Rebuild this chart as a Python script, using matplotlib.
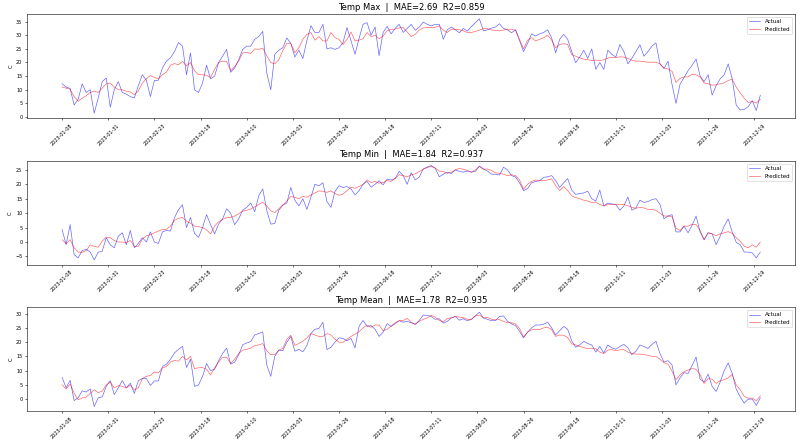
import matplotlib
matplotlib.use("Agg")
import matplotlib.pyplot as plt
from matplotlib.ticker import MultipleLocator
import pandas as pd

# ---------------- data (every 2nd day, 2023-01-08 .. 2023-12-22) ----------------
start_date = "2023-01-08"
n_points = 175
step = "2D"

max_actual = [
    12.2, 11.0, 10.5, 4.4, 6.5, 12.2, 9.0, 10.0, 1.4, 7.0,
    13.0, 14.3, 3.6, 10.0, 13.0, 9.0, 8.4, 7.5, 7.0, 11.5,
    15.5, 13.5, 7.5, 13.4, 13.5, 18.0, 20.5, 21.7, 24.0, 27.3,
    26.0, 15.5, 23.5, 10.0, 9.0, 12.5, 19.0, 14.0, 15.0, 20.0,
    22.3, 24.8, 16.4, 18.0, 21.0, 24.8, 26.0, 26.0, 28.5, 29.5,
    31.4, 16.2, 10.0, 23.0, 24.5, 25.4, 29.0, 27.0, 22.0, 24.5,
    21.5, 28.0, 33.5, 31.0, 31.0, 34.0, 25.0, 25.4, 24.8, 25.4,
    27.3, 32.8, 28.0, 23.0, 28.8, 34.0, 34.6, 30.0, 33.0, 22.5,
    31.0, 33.2, 30.5, 32.5, 34.0, 31.0, 32.5, 34.0, 31.8, 33.0,
    34.8, 34.0, 33.4, 34.0, 34.0, 28.5, 32.0, 33.0, 32.0, 30.9,
    32.5, 31.5, 33.2, 34.6, 36.0, 31.6, 32.0, 32.6, 33.0, 34.2,
    32.5, 32.0, 30.9, 32.0, 28.0, 24.0, 27.0, 30.5, 29.7, 30.5,
    31.0, 32.0, 29.0, 23.5, 28.5, 30.3, 28.5, 24.0, 19.9, 22.0,
    24.5, 21.5, 25.0, 17.5, 20.0, 17.5, 24.5, 23.0, 22.0, 26.6,
    24.0, 19.5, 21.5, 24.0, 26.5, 22.3, 24.0, 26.0, 27.2, 19.5,
    17.8, 20.5, 12.0, 5.0, 12.0, 14.5, 17.0, 19.0, 21.3, 15.0,
    13.0, 15.5, 8.0, 11.5, 14.0, 15.5, 19.5, 14.0, 4.4, 2.6,
    2.8, 3.8, 6.0, 2.4, 8.0,
]
max_pred = [
    11.0, 10.6, 10.2, 7.5, 5.8, 6.9, 7.8, 9.0, 9.5, 9.0,
    10.6, 12.2, 12.5, 11.0, 10.0, 10.0, 9.5, 9.2, 8.2, 9.5,
    12.5, 14.0, 15.2, 14.5, 14.0, 15.5, 16.5, 19.0, 19.6, 19.2,
    20.4, 18.8, 20.0, 17.0, 15.5, 15.5, 15.3, 14.5, 17.5, 20.0,
    20.5, 20.4, 17.0, 18.5, 20.5, 23.5, 23.7, 23.3, 25.0, 24.8,
    25.3, 22.5, 20.0, 19.5, 21.0, 24.4, 27.0, 27.0, 23.6, 25.4,
    28.5, 30.3, 31.0, 28.2, 29.5, 27.9, 27.9, 31.0, 29.1, 28.5,
    26.6, 28.5, 31.2, 27.9, 28.2, 28.7, 31.0, 29.5, 30.0, 28.7,
    29.7, 31.6, 32.2, 32.2, 32.7, 32.8, 31.2, 29.5, 30.3, 31.9,
    32.7, 32.8, 32.8, 32.9, 33.4, 31.9, 31.0, 32.2, 32.2, 32.0,
    31.6, 31.0, 31.0, 31.4, 31.9, 32.4, 32.4, 31.9, 31.8, 31.6,
    31.9, 32.2, 32.2, 31.8, 28.5, 25.0, 28.2, 29.1, 27.9, 28.5,
    29.1, 30.0, 28.2, 25.4, 26.6, 26.9, 26.6, 22.9, 22.3, 21.7,
    21.2, 21.1, 20.7, 20.9, 20.7, 21.0, 21.6, 21.9, 21.8, 22.1,
    22.0, 21.5, 20.8, 20.5, 20.5, 20.3, 20.1, 20.1, 20.1, 19.5,
    18.0, 17.6, 16.8, 12.7, 14.2, 14.7, 14.7, 15.7, 15.5, 14.7,
    12.5, 12.2, 11.7, 11.8, 12.2, 12.5, 13.4, 13.9, 11.0, 8.8,
    6.9, 5.3, 5.7, 5.1, 6.5,
]
min_actual = [
    4.3, -0.9, 6.0, -4.4, -5.5, -3.0, -2.5, -3.5, -6.2, -3.5,
    -3.2, 1.5, -1.0, -2.0, 2.0, 3.2, -1.0, 4.0, -2.0, -0.5,
    1.5, 0.0, 3.5, 0.0, -0.5, 3.5, 4.0, 3.8, 8.4, 11.2,
    12.9, 5.0, 8.5, 3.0, 1.6, 5.0, 9.5, 6.0, 2.8, 6.2,
    8.0, 11.5, 10.0, 6.0, 8.0, 11.0, 12.0, 13.5, 10.5, 16.0,
    18.4, 11.0, 6.2, 6.4, 11.0, 12.8, 13.5, 18.9, 14.5, 12.5,
    15.0, 11.3, 15.5, 20.0, 19.5, 20.5, 14.0, 12.0, 17.5, 19.5,
    18.9, 19.2, 18.4, 16.3, 17.8, 20.0, 21.0, 19.0, 20.0, 21.2,
    19.8, 21.8, 21.5, 22.0, 24.5, 23.0, 20.0, 24.0, 21.5, 22.5,
    25.3, 26.0, 26.5, 25.5, 22.6, 23.5, 24.2, 23.7, 25.0, 24.5,
    24.2, 24.6, 24.2, 24.5, 26.3, 25.3, 24.6, 23.5, 23.5, 23.2,
    25.9, 25.0, 23.0, 22.5, 20.5, 17.8, 18.5, 20.5, 21.0, 21.2,
    22.4, 22.6, 23.0, 21.3, 18.9, 20.5, 22.0, 18.0, 16.5, 16.8,
    17.0, 17.6, 15.0, 14.2, 18.0, 12.5, 13.5, 13.2, 13.0, 11.0,
    12.5, 15.6, 11.0, 11.8, 14.5, 13.7, 14.0, 14.7, 15.0, 13.0,
    8.0, 9.0, 9.5, 3.5, 3.5, 5.5, 3.2, 5.8, 9.0, 3.5,
    0.8, 3.2, 2.8, -0.9, 2.0, 5.5, 8.0, 3.5, -0.1, -1.0,
    -3.5, -3.5, -3.8, -5.5, -3.5,
]
min_pred = [
    0.8, -0.6, 0.8, -2.0, -3.5, -3.6, -3.0, -1.0, -1.5, -1.8,
    0.3, 1.7, 1.5, 0.5, 0.0, 0.0, -0.2, 0.5, -1.5, -1.5,
    1.0, 2.2, 2.5, 3.2, 3.8, 4.3, 4.4, 5.5, 7.5, 8.2,
    8.5, 7.2, 6.5, 5.5, 5.3, 5.0, 4.2, 2.8, 5.5, 7.0,
    7.8, 8.5, 8.5, 9.0, 9.8, 10.7, 11.0, 11.4, 12.2, 13.0,
    13.8, 12.5, 10.8, 10.2, 11.5, 12.8, 14.2, 15.8, 15.5, 15.0,
    15.8, 15.5, 16.3, 17.0, 17.7, 17.6, 17.2, 17.7, 16.8, 16.2,
    16.6, 17.8, 19.0, 18.6, 19.2, 20.0, 21.5, 20.6, 21.0, 20.4,
    20.6, 21.3, 21.0, 22.0, 23.3, 23.0, 22.6, 23.3, 23.6, 24.4,
    25.2, 25.8, 26.2, 25.6, 24.6, 24.4, 23.8, 24.2, 25.0, 25.5,
    25.2, 24.8, 24.2, 25.0, 26.2, 25.2, 25.3, 24.8, 24.0, 23.8,
    23.5, 23.0, 23.3, 23.0, 21.5, 18.3, 20.0, 21.0, 21.5, 21.3,
    21.2, 21.5, 21.9, 19.5, 17.8, 19.2, 17.8, 16.0, 15.4, 15.0,
    14.5, 14.2, 13.7, 13.8, 13.0, 12.5, 13.0, 13.0, 13.1, 12.9,
    13.0, 12.6, 12.0, 11.7, 12.0, 11.8, 11.3, 11.3, 11.0, 10.0,
    9.0, 9.0, 8.7, 4.8, 4.0, 5.5, 5.5, 6.1, 6.0, 4.0,
    0.8, 3.2, 2.8, 2.2, 2.8, 3.2, 3.6, 3.0, 1.5, 0.3,
    -1.5, -2.0, -1.0, -1.8, 0.0,
]
mean_actual = [
    7.6, 4.0, 6.6, -0.5, 0.5, 2.9, 2.5, 3.6, -2.6, 0.5,
    0.8, 4.5, 6.5, 1.6, 4.0, 6.5, 4.0, 5.6, 2.0, 6.5,
    7.2, 7.2, 4.8, 6.4, 6.4, 11.5, 12.2, 14.0, 16.2, 17.5,
    18.5, 11.1, 14.0, 4.5, 5.0, 8.0, 12.5, 10.0, 10.5, 13.5,
    16.0, 17.9, 12.3, 13.0, 15.5, 19.1, 19.7, 20.2, 22.5, 23.0,
    23.6, 12.0, 8.0, 15.0, 17.2, 17.0, 20.0, 22.0, 16.8, 17.5,
    16.6, 18.8, 23.0, 24.5, 24.8, 27.0, 17.4, 18.2, 20.0, 21.5,
    21.3, 20.5, 21.3, 18.0, 25.5, 27.6, 25.5, 25.8, 24.5, 22.0,
    23.5, 26.5, 25.5, 26.5, 27.5, 27.0, 27.3, 26.8, 26.2, 27.6,
    29.5, 29.4, 29.0, 28.0, 28.2, 26.7, 27.3, 28.5, 29.0, 27.7,
    28.2, 27.5, 28.0, 29.2, 30.5, 28.5, 28.0, 27.5, 27.6, 29.0,
    29.2, 27.3, 26.4, 25.8, 23.8, 21.5, 23.5, 25.0, 26.0, 26.0,
    26.3, 27.0, 25.0, 22.5, 24.0, 25.5, 24.5, 20.5, 18.2, 19.0,
    20.3, 19.5, 19.0, 16.5, 18.5, 16.2, 19.0, 18.0, 17.5, 18.5,
    19.2, 18.0, 15.6, 16.8, 19.0, 18.5, 17.8, 19.2, 20.3, 16.0,
    13.0, 13.5, 12.0, 5.0, 7.5, 9.3, 9.0, 11.8, 14.8, 7.0,
    6.0, 8.8, 4.5, 2.7, 6.0, 10.0, 12.7, 9.0, 3.5, 0.8,
    -1.4, 0.0, 0.0, -2.2, 0.5,
]
mean_pred = [
    5.0, 3.6, 5.3, 2.0, -0.2, 0.4, 0.7, 2.0, 3.3, 2.3,
    2.8, 5.0, 6.0, 4.0, 4.7, 4.5, 3.9, 5.0, 3.2, 4.0,
    7.2, 8.0, 8.3, 9.5, 9.2, 10.9, 11.5, 13.0, 13.6, 13.3,
    15.0, 13.8, 15.0, 10.7, 11.0, 11.1, 10.5, 8.5, 10.9, 13.0,
    14.7, 14.7, 12.5, 14.0, 16.0, 17.2, 17.5, 17.9, 18.8, 19.0,
    19.5, 17.0, 15.6, 15.6, 17.2, 17.8, 21.0, 22.4, 18.9, 19.5,
    20.3, 21.5, 23.0, 22.5, 22.0, 22.0, 23.0, 22.5, 21.0, 20.0,
    19.9, 21.0, 22.0, 22.8, 23.6, 25.0, 26.0, 25.2, 26.0, 26.0,
    24.0, 24.5, 25.6, 26.8, 27.5, 27.6, 28.3, 27.0, 26.3, 27.3,
    28.0, 28.5, 29.4, 28.8, 27.6, 27.1, 28.3, 28.5, 29.0, 28.8,
    28.6, 28.0, 28.0, 29.2, 29.5, 28.5, 28.7, 28.0, 27.8, 27.9,
    27.3, 26.8, 26.8, 26.4, 24.8, 21.8, 23.5, 24.3, 24.5, 24.4,
    25.0, 25.2, 24.4, 22.0, 22.5, 22.4, 21.6, 19.4, 19.0, 18.5,
    18.1, 17.7, 17.7, 17.7, 16.5, 16.0, 17.2, 17.4, 17.0, 17.3,
    17.4, 16.5, 16.0, 15.8, 15.8, 15.6, 15.4, 15.0, 15.0, 14.0,
    12.8, 12.3, 9.8, 6.8, 8.5, 9.7, 10.2, 10.7, 10.5, 8.5,
    5.5, 7.2, 7.0, 5.5, 6.5, 6.8, 7.5, 8.7, 5.0, 3.3,
    1.0, 0.3, 0.4, -0.6, 1.2,
]

titles = [
    "Temp Max  |  MAE=2.69  R2=0.859",
    "Temp Min  |  MAE=1.84  R2=0.937",
    "Temp Mean  |  MAE=1.78  R2=0.935",
]
tick_labels = [
    "2023-01-08", "2023-01-31", "2023-02-23", "2023-03-18", "2023-04-10",
    "2023-05-03", "2023-05-26", "2023-06-18", "2023-07-11", "2023-08-03",
    "2023-08-26", "2023-09-18", "2023-10-11", "2023-11-03", "2023-11-26",
    "2023-12-19",
]

# ---------------- plot ----------------
dates = pd.date_range(start_date, periods=n_points, freq=step)
tick_dates = pd.to_datetime(tick_labels)

series = [(max_actual, max_pred), (min_actual, min_pred), (mean_actual, mean_pred)]

DPI = 50
fig, axes = plt.subplots(3, 1, figsize=(16, 8.84), dpi=DPI)
fig.subplots_adjust(left=0.034, right=0.994, top=0.968, bottom=0.0695, hspace=0.413)

for ax, (act, pred), title in zip(axes, series, titles):
    ax.plot(dates, act, color="blue", alpha=0.6, linewidth=1.0, label="Actual")
    ax.plot(dates, pred, color="red", alpha=0.6, linewidth=1.0, label="Predicted")
    ax.set_title(title, fontsize=12)
    ax.set_ylabel("C", fontsize=7.5)
    ax.yaxis.set_major_locator(MultipleLocator(5))
    ax.set_xticks(tick_dates)
    ax.set_xticklabels(tick_labels, rotation=45, fontsize=7)
    ax.tick_params(axis="y", labelsize=7)
    ax.legend(loc="upper right", fontsize=8)

fig.savefig("out.png", dpi=DPI)
